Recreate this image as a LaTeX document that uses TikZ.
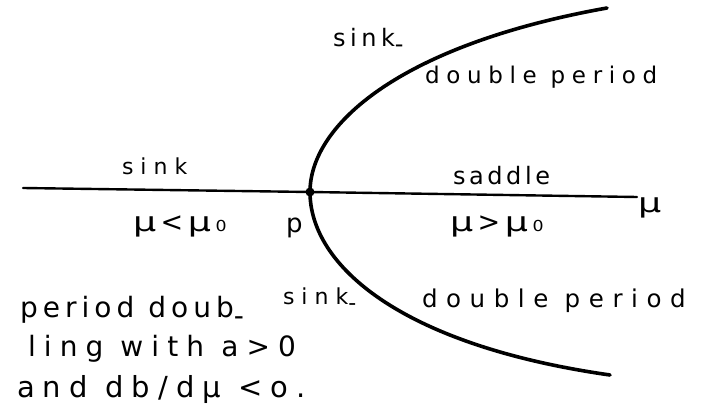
\documentclass[tikz,border=0pt]{standalone}
\usepackage{fontspec}
\setmainfont{DejaVu Sans}
\newcommand\lsp[1]{\addfontfeatures{LetterSpace=#1}}
\newcommand\lowdash[1]{\raisebox{#1}{-}}
\newcommand\wmu{\scalebox{1.35}[1]{μ}}
\begin{document}
\begin{tikzpicture}[x=1pt,y=-1pt,
  hw/.style 2 args={anchor=base west, inner sep=0pt, outer sep=0pt,
    font={\fontsize{#1}{#1}\selectfont\lsp{#2}}},
  branch/.style={line width=3.6pt, line cap=round, line join=round},
  axisline/.style={line width=2.4pt, line cap=round}]
\useasboundingbox (0,0) rectangle (705,414);
% axis
\coordinate (L) at (23,188);
\coordinate (P) at (310,192);
\coordinate (R) at (637,197);
\coordinate (U) at (607,8);
\coordinate (D) at (610,375);
\draw[axisline] (L) -- (P) -- (R);
% parabola
\draw[branch] (U) .. controls (400,45) and (310,125) .. (P)
                  .. controls (310,265) and (400,345) .. (D);
\fill (P) circle (4.5pt);
% labels
\node[hw={24}{19}] (sinkU) at (333,47) {sink\lowdash{-6pt}};
\node[hw={23}{29}] (dpU) at (425,84) {double period};
\node[hw={22}{32}] (sinkL) at (122,175) {sink};
\node[hw={24}{15}] (saddle) at (453,185) {saddle};
\node[hw={27}{0}] (mu) at (638,213) {\wmu};
\node[hw={27}{25}] (mulo) at (133,232) {\wmu\,<\,\wmu\,₀};
\node[hw={26}{0}] (plab) at (286,233) {p};
\node[hw={27}{25}] (muhi) at (450,232) {\wmu\,>\,\wmu\,₀};
\node[hw={22}{32}] (sinkD) at (283,305) {sink\lowdash{-6pt}};
\node[hw={24.5}{35}] (dpD) at (422,308) {double period};
\node[hw={28}{18}] (t1) at (20,318) {period doub\lowdash{-8pt}};
\node[hw={28}{29}] (t2) at (28,356) {ling with a>0};
\node[hw={29}{28}] (t3) at (17,397) {and db/dμ <o.};
\end{tikzpicture}
\end{document}
